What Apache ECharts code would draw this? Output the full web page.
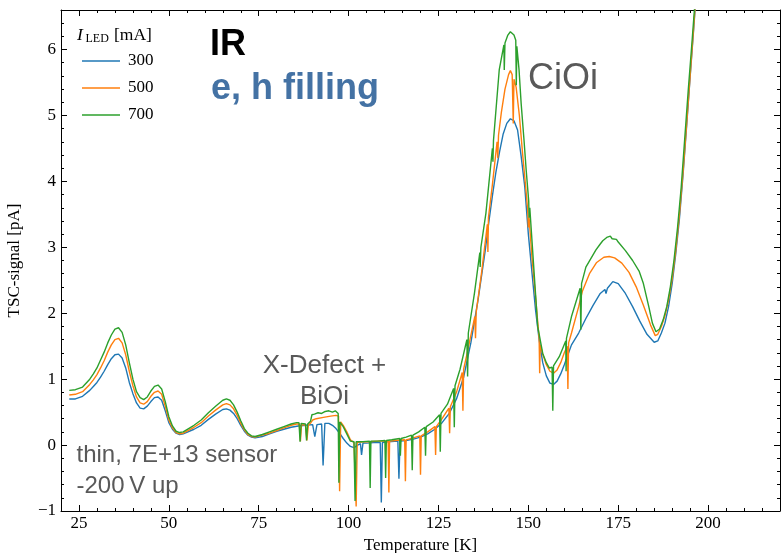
<!DOCTYPE html>
<html>
<head>
<meta charset="utf-8">
<script src="https://cdn.jsdelivr.net/npm/echarts@6/dist/echarts.min.js"></script>
<style>
  html, body { margin: 0; padding: 0; background: #fff; }
  #chart { width: 782px; height: 553px; }
</style>
</head>
<body>
<div id="chart"></div>
<script>
// LED currents [mA]
const currents = ['300', '500', '700'];

// Tick labels
const xTicks = [25, 50, 75, 100, 125, 150, 175, 200];
const yTicks = [-1, 0, 1, 2, 3, 4, 5, 6];

// TSC signal for I_LED = 300 mA: temperature [K] and current [pA]
const temp300 = [22.3,24,26,28,29,30,31,32,33,34,35,36,37,38,39,40,41,42,43,44,45,46,47,48,49,50,51,52,53,54,57,59,61,63,65,66,67,68,69,70,71,72,73,74,76,78,80,82,84,86,88,90,90.6,91.2,92.5,92.9,93.4,94.5,95.5,96.5,97.5,98.5,99.5,100.5,101.5,102.5,103.3,103.6,104,105,107,108.8,109.1,109.4,111,113.7,114,114.3,116,118,120,122,124,126,128,130,132,134,136,138,139,140,141,142,143,144,145,146,147,148,149,150,151,152,153,154,155,156,157,158,159,160,161,162,164,166,168,170,171.3,171.6,172,173.5,175,177,179,181,183,185,186,187,188,189,190,191,192,193,194,195,196,196.6];
const signal300 = [0.70,0.70,0.74,0.83,0.89,0.95,1.03,1.12,1.22,1.31,1.37,1.38,1.32,1.17,0.95,0.78,0.64,0.56,0.55,0.59,0.66,0.72,0.73,0.68,0.52,0.34,0.24,0.18,0.16,0.17,0.24,0.30,0.39,0.47,0.54,0.55,0.53,0.48,0.40,0.30,0.21,0.15,0.12,0.11,0.13,0.17,0.21,0.24,0.27,0.29,0.30,0.31,0.13,0.31,0.32,-0.31,0.33,0.33,0.30,0.25,0.18,0.10,0.03,-0.02,-0.04,0.00,0.02,-0.15,0.03,0.03,0.04,0.04,-0.87,0.04,0.05,0.06,-0.51,0.06,0.07,0.09,0.12,0.17,0.24,0.34,0.48,0.70,1.03,1.55,2.20,2.95,3.38,3.78,4.15,4.45,4.72,4.88,4.95,4.92,4.78,4.38,3.92,3.20,2.62,2.05,1.60,1.25,1.05,0.94,0.92,0.97,1.08,1.22,1.37,1.52,1.70,1.92,2.12,2.30,2.36,2.30,2.38,2.48,2.45,2.30,2.10,1.88,1.68,1.56,1.58,1.70,1.85,2.10,2.45,2.90,3.42,4.08,4.82,5.58,6.32,6.78];

// TSC signal for I_LED = 500 mA
const temp500 = [22.3,24,26,28,29,30,31,32,33,34,35,36,37,38,39,40,41,42,43,44,45,46,47,48,49,50,51,52,53,54,57,59,61,63,65,66,67,68,69,70,71,72,73,74,76,78,80,82,84,85.5,86.3,86.6,86.9,88,88.4,88.8,89.5,90,91,93,95,96.5,97.2,97.5,97.8,98.5,99.5,100.5,101.5,101.9,102.1,102.4,104,106,108,111,111.2,111.4,113,115.6,115.8,116,118,119.8,120,120.2,122,124,124.2,124.4,126,127.9,128.1,128.3,130,131.6,131.8,132,133,135.1,135.3,135.5,137,138.6,138.75,138.9,140,141.3,141.5,141.7,142.5,143.5,144.5,145,145.5,145.8,146,146.6,147.5,148.4,149.2,149.8,150,150.2,151,152,153,153.15,153.3,154,155,156,157,158,159,160,160.8,161,161.2,162,164,165,167,169,171,172.5,174,176,178,180,182,184,185.3,186,187,188,189,190,191,192,193,194,195,196,196.6];
const signal500 = [0.76,0.77,0.81,0.92,0.99,1.07,1.17,1.28,1.41,1.52,1.60,1.62,1.55,1.37,1.12,0.90,0.73,0.64,0.62,0.66,0.74,0.80,0.82,0.77,0.59,0.38,0.26,0.19,0.17,0.18,0.27,0.34,0.44,0.53,0.61,0.63,0.61,0.55,0.45,0.33,0.23,0.16,0.13,0.12,0.15,0.18,0.22,0.26,0.30,0.32,0.32,0.06,0.31,0.30,0.07,0.30,0.34,0.38,0.40,0.42,0.44,0.45,0.44,-0.70,0.35,0.30,0.20,0.08,0.04,0.04,-0.93,0.04,0.05,0.05,0.06,0.06,-0.72,0.06,0.07,0.08,-0.55,0.08,0.11,0.14,-0.45,0.14,0.20,0.28,-0.15,0.28,0.40,0.56,0.18,0.58,0.80,1.10,0.52,1.15,1.40,1.95,1.62,2.02,2.62,3.35,2.93,3.45,3.95,4.60,4.35,4.70,5.05,5.40,5.62,5.68,5.62,4.88,5.55,5.43,5.00,4.42,3.95,3.58,3.30,3.45,2.85,2.25,1.62,1.09,1.52,1.38,1.22,1.12,1.09,1.14,1.25,1.40,1.50,0.85,1.55,1.70,2.10,2.33,2.60,2.77,2.85,2.86,2.84,2.76,2.62,2.40,2.12,1.82,1.66,1.68,1.80,1.96,2.20,2.52,2.95,3.48,4.12,4.85,5.60,6.35,6.80];

// TSC signal for I_LED = 700 mA
const temp700 = [22.3,24,26,28,29,30,31,32,33,34,35,36,37,38,39,40,41,42,43,44,45,46,47,48,49,50,51,52,53,54,57,59,61,63,65,66,67,68,69,70,71,72,73,74,76,78,80,82,84,85.5,86.2,86.5,86.8,88,88.3,88.6,89.4,89.8,90.5,91.5,92.5,93.5,94.5,95.5,96.3,97.1,97.3,97.5,98.5,99.5,100.5,101.5,101.8,102.1,104,105.8,106,106.2,108,110.1,110.3,110.5,112,114.2,114.4,114.6,116,117.5,117.7,117.9,119.5,121.2,121.4,121.6,123.5,125.3,125.5,125.7,127.5,129.2,129.4,129.6,131,132.9,133.1,133.3,135,136.5,136.6,136.8,138.2,140,140.15,140.3,141.9,143.2,143.3,143.5,144.3,145,146,146.5,146.65,146.8,147.4,148,148.8,149.4,150.1,150.2,150.4,151.5,152.6,154,155,155.8,156.6,156.8,157,158.6,160.4,160.5,160.6,162,164.4,164.6,164.8,166,168.8,170,170.7,171.2,171.8,172.3,172.8,173.3,173.8,174.5,175,177,179,180.8,182,183.5,184.5,185.5,186.5,187.5,188.5,189.5,190.5,191.5,192.5,193.5,194.5,195.5,196.6];
const signal700 = [0.83,0.84,0.88,1.00,1.08,1.17,1.29,1.41,1.55,1.67,1.76,1.78,1.71,1.52,1.25,1.00,0.81,0.72,0.69,0.73,0.82,0.89,0.91,0.85,0.66,0.43,0.29,0.21,0.19,0.20,0.30,0.38,0.49,0.59,0.68,0.70,0.68,0.61,0.50,0.37,0.25,0.18,0.14,0.13,0.16,0.20,0.24,0.28,0.32,0.34,0.34,0.05,0.33,0.32,0.07,0.32,0.36,0.46,0.47,0.49,0.48,0.51,0.52,0.50,0.52,0.48,-0.57,0.35,0.28,0.17,0.06,0.05,-0.85,0.05,0.05,0.06,-0.65,0.06,0.06,0.07,-0.50,0.07,0.08,0.10,-0.16,0.10,0.12,0.15,-0.38,0.15,0.20,0.27,-0.16,0.28,0.35,0.46,-0.10,0.48,0.62,0.86,0.27,0.90,1.15,1.60,1.04,1.70,2.30,2.92,2.70,3.00,3.52,4.50,4.30,4.62,5.69,6.07,5.69,6.10,6.22,6.27,6.22,6.14,5.46,6.05,5.70,5.18,4.62,4.17,3.70,3.45,3.60,2.70,1.80,1.39,1.25,1.17,1.18,0.52,1.20,1.34,1.58,1.12,1.62,1.95,2.38,1.75,2.45,2.70,2.96,3.05,3.10,3.08,3.15,3.12,3.17,3.13,3.16,3.12,3.08,2.95,2.80,2.64,2.45,2.10,1.85,1.72,1.76,1.90,2.10,2.40,2.80,3.30,3.90,4.65,5.40,6.10,6.90];

const temps = [temp300, temp500, temp700];
const signals = [signal300, signal500, signal700];

const lineColors = ['#1f77b4', '#ff7f0e', '#2ca02c'];
const serif = 'Liberation Serif, Times New Roman, serif';
const sans = 'Liberation Sans, Arial, sans-serif';
const gray = '#595959';

const zip = (xs, ys) => xs.map((x, i) => [x, ys[i]]);
const minusSign = v => String(v).replace('-', '\u2212');

const frameLine = { show: true, onZero: false, lineStyle: { color: '#000', width: 1 } };
const hiddenLine = { show: false, onZero: false };

function xAxisPair(position) {
  const isBottom = position === 'bottom';
  return [
    {
      type: 'value', position, min: 20, max: 220,
      axisLine: frameLine,
      axisTick: { show: true, inside: true, length: 6, customValues: xTicks, lineStyle: { color: '#000', width: 1 } },
      axisLabel: isBottom
        ? { show: true, customValues: xTicks, margin: 4, color: '#000', fontFamily: serif, fontSize: 17 }
        : { show: false },
      splitLine: { show: false },
      name: isBottom ? 'Temperature [K]' : '',
      nameLocation: 'middle', nameGap: 23,
      nameTextStyle: { color: '#000', fontFamily: serif, fontSize: 17 }
    },
    {
      type: 'value', position, min: 20, max: 220, interval: 5,
      axisLine: hiddenLine,
      axisTick: { show: true, inside: true, length: 3, lineStyle: { color: '#000', width: 1 } },
      axisLabel: { show: false },
      splitLine: { show: false }
    }
  ];
}

function yAxisPair(position) {
  const isLeft = position === 'left';
  return [
    {
      type: 'value', position, min: -1, max: 6.6,
      axisLine: frameLine,
      axisTick: { show: true, inside: true, length: 6, customValues: yTicks, lineStyle: { color: '#000', width: 1 } },
      axisLabel: isLeft
        ? { show: true, customValues: yTicks, margin: 5, color: '#000', fontFamily: serif, fontSize: 17, formatter: minusSign }
        : { show: false },
      splitLine: { show: false },
      name: isLeft ? 'TSC-signal [pA]' : '',
      nameLocation: 'middle', nameGap: 38,
      nameTextStyle: { color: '#000', fontFamily: serif, fontSize: 17 }
    },
    {
      type: 'value', position, min: -1, max: 6.6, interval: 0.2,
      axisLine: hiddenLine,
      axisTick: { show: true, inside: true, length: 3, lineStyle: { color: '#000', width: 1 } },
      axisLabel: { show: false },
      splitLine: { show: false }
    }
  ];
}

const chart = echarts.init(document.getElementById('chart'), null, { renderer: 'canvas' });

chart.setOption({
  animation: false,
  backgroundColor: '#fff',
  grid: { left: 61, right: 2, top: 10, bottom: 42, containLabel: false, outerBoundsMode: 'none' },
  xAxis: [...xAxisPair('bottom'), ...xAxisPair('top')],
  yAxis: [...yAxisPair('left'), ...yAxisPair('right')],
  legend: {
    orient: 'vertical', left: 77, top: 47.5,
    icon: 'rect', itemWidth: 38, itemHeight: 1.6, itemGap: 10,
    selectedMode: false,
    textStyle: { color: '#000', fontFamily: serif, fontSize: 17, lineHeight: 16, padding: [0, 0, 0, 3] },
    data: currents
  },
  series: currents.map((name, k) => ({
    name, type: 'line', xAxisIndex: 0, yAxisIndex: 0,
    data: zip(temps[k], signals[k]),
    showSymbol: false, symbol: 'none', clip: true,
    color: lineColors[k],
    lineStyle: { color: lineColors[k], width: 1.4 },
    z: 2 + k
  })),
  graphic: [
    // legend heading: I_LED [mA]
    { type: 'text', x: 77, y: 35.4, style: { text: 'I', fill: '#000', font: 'italic 17.5px ' + serif, verticalAlign: 'middle' } },
    { type: 'text', x: 85.5, y: 39.3, style: { text: 'LED', fill: '#000', font: '12px ' + serif, verticalAlign: 'middle' } },
    { type: 'text', x: 114, y: 35.4, style: { text: '[mA]', fill: '#000', font: '17.5px ' + serif, verticalAlign: 'middle' } },
    // annotations
    { type: 'text', x: 210, y: 45, style: { text: 'IR', fill: '#000', font: 'bold 36px ' + sans, verticalAlign: 'middle' } },
    { type: 'text', x: 211, y: 89, style: { text: 'e, h filling', fill: '#4472a4', font: 'bold 36px ' + sans, verticalAlign: 'middle' } },
    { type: 'text', x: 528, y: 79.5, style: { text: 'CiOi', fill: gray, font: '36px ' + sans, verticalAlign: 'middle' } },
    { type: 'text', x: 324.5, y: 365.5, style: { text: 'X-Defect +', fill: gray, font: '26px ' + sans, align: 'center', verticalAlign: 'middle' } },
    { type: 'text', x: 324.5, y: 397, style: { text: 'BiOi', fill: gray, font: '26px ' + sans, align: 'center', verticalAlign: 'middle' } },
    { type: 'text', x: 76.5, y: 455.3, style: { text: 'thin, 7E+13 sensor', fill: gray, font: '24px ' + sans, verticalAlign: 'middle' } },
    { type: 'text', x: 76.5, y: 486, style: { text: '-200\u2009V up', fill: gray, font: '24px ' + sans, verticalAlign: 'middle' } }
  ]
});
</script>
</body>
</html>
